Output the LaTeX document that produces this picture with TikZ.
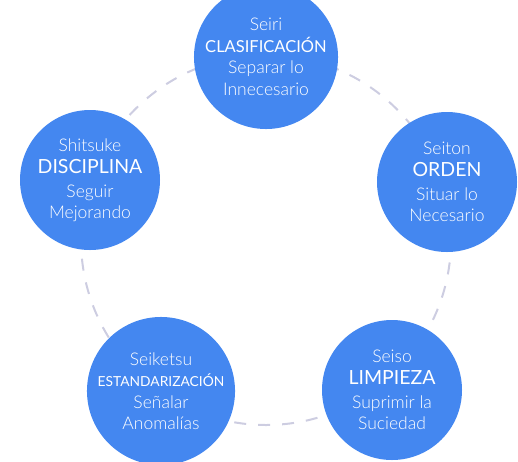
\documentclass[tikz,border=0pt]{standalone}
\usepackage{fontspec}
\setmainfont{Lato Light}
\newfontfamily\latoreg{Lato}
\definecolor{sblue}{RGB}{68,135,240}
\definecolor{dashc}{RGB}{205,205,225}
\tikzset{
  sbubble/.style={circle, fill=sblue, minimum size=140pt, inner sep=0pt,
    text=white, align=center, font=\fontsize{17.5}{21.5}\selectfont},
  ring/.style={draw=dashc, line width=2pt, dash pattern=on 12pt off 12pt}
}
\newcommand{\hd}[2]{{\latoreg\fontsize{#1}{#1}\selectfont #2}}
\begin{document}
\begin{tikzpicture}[x=1pt,y=-1pt]
\useasboundingbox (0,0) rectangle (518,461);
\coordinate (ctr) at (266,240);
\draw[ring] (ctr) circle[radius=185pt];
\node[sbubble] (seiri) at (266,57) {Seiri\\\hd{16.5}{CLASIFICACIÓN}\\Separar lo\\Innecesario};
\node[sbubble] (seiton) at (447,182) {Seiton\\[1pt]\hd{19.5}{ORDEN}\\[2pt]Situar lo\\Necesario};
\node[sbubble] (seiso) at (392,390) {Seiso\\[1pt]\hd{19.5}{LIMPIEZA}\\[2pt]Suprimir la\\Suciedad};
\node[sbubble] (seiketsu) at (161,391) {Seiketsu\\\hd{13.8}{ESTANDARIZACIÓN}\\Señalar\\Anomalías};
\node[sbubble] (shitsuke) at (90,180) {Shitsuke\\[1pt]\hd{19.5}{DISCIPLINA}\\[2pt]Seguir\\Mejorando};
\end{tikzpicture}
\end{document}
